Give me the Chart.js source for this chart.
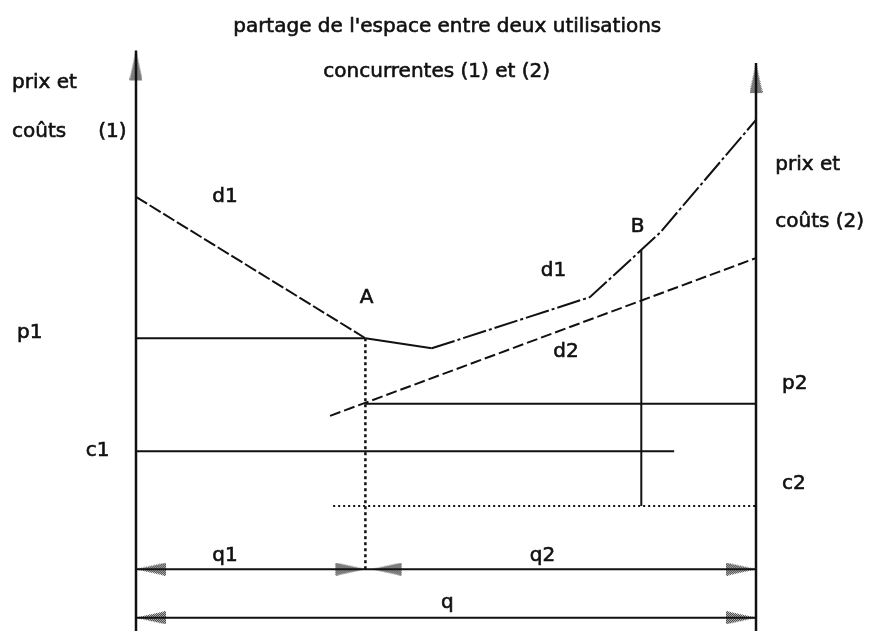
<!DOCTYPE html>
<html>
<head>
<meta charset="utf-8">
<script src="https://cdn.jsdelivr.net/npm/chart.js@4/dist/chart.umd.min.js"></script>
<style>html,body{margin:0;background:#fff}</style>
</head>
<body>
<canvas id="chart" width="896" height="631"></canvas>
<script>
// quantités : 0 = axe (1), 100 = axe (2) ; prix en unités arbitraires
const axeGauche = [[0, 0], [0, 92]];
const axeDroit = [[100, 0], [100, 90]];
const d1 = [[0, 68.8], [37, 46.4], [47.7, 44.8], [73.2, 52.9], [84.5, 63.1], [100, 81]];
const d2 = [[31.3, 34.1], [100, 59.1]];
const p1 = [[0, 46.4], [37, 46.4]];
const p2 = [[37, 36], [100, 36]];
const c1 = [[0, 28.5], [86.8, 28.5]];
const c2 = [[31.8, 19.8], [100, 19.8]];
const verticaleA = [[37, 46.4], [37, 9.8]];
const verticaleB = [[81.5, 60.4], [81.5, 19.8]];
const ligneQ12 = [[0, 9.8], [100, 9.8]];
const ligneQ = [[0, 2.1], [100, 2.1]];
// flèches : x, y (pointe), angle
const fleches = [[0, 92, 0], [100, 90, 0], [0, 9.8, -90], [37, 9.8, 90], [38, 9.8, -90],
  [100, 9.8, 90], [0, 2.1, -90], [100, 2.1, 90]];
// textes : texte, x, y, alignement
const etiquettes = [
  ["partage de l'espace entre deux utilisations", 50.2, 95.7, 'center'],
  ['concurrentes (1) et (2)', 48.5, 88.6, 'center'],
  ['prix et', -20, 86.8],
  ['coûts', -20, 79.1],
  ['(1)', -6.1, 79.1],
  ['prix et', 103.1, 73.9],
  ['coûts (2)', 103.1, 64.8],
  ['d1', 12.3, 68.8],
  ['A', 36.1, 52.8],
  ['d1', 65.3, 57.1],
  ['B', 79.8, 64.0],
  ['d2', 67.3, 44.2],
  ['p1', -19.2, 47.2],
  ['p2', 104.2, 39.1],
  ['c1', -8.1, 28.5],
  ['c2', 104.2, 23.3],
  ['q1', 12.3, 11.9],
  ['q2', 63.5, 11.9],
  ['q', 49.2, 4.4]
];

const pts = arr => arr.map(([x, y]) => ({x, y}));
const noir = '#111';

// pointe de flèche tramée, pointe au centre du canvas
function pointeFleche() {
  const c = document.createElement('canvas');
  c.width = 13; c.height = 64;
  const g = c.getContext('2d');
  g.beginPath();
  g.moveTo(6.5, 32); g.lineTo(0, 62); g.lineTo(13, 62); g.closePath();
  g.clip();
  g.fillStyle = '#d8d8d8';
  g.fillRect(0, 0, 13, 64);
  g.fillStyle = '#222';
  for (let i = 0; i < 13; i++)
    for (let j = 30; j < 64; j++)
      if ((i + j) % 2 === 0) g.fillRect(i, j, 1, 1);
  return c;
}

function ligne(data, width, dash, extra) {
  return Object.assign({
    data: pts(data), showLine: true, borderColor: noir, borderWidth: width,
    borderDash: dash || [], pointRadius: 0, fill: false
  }, extra || {});
}

const textes = {
  id: 'textes',
  afterDatasetsDraw(chart) {
    const {ctx, scales: {x, y}} = chart;
    ctx.save();
    ctx.font = '20px "DejaVu Sans"';
    ctx.fillStyle = noir;
    ctx.strokeStyle = noir;
    ctx.lineWidth = 0.6;
    ctx.textBaseline = 'middle';
    for (const [t, lx, ly, align] of etiquettes) {
      ctx.textAlign = align || 'left';
      const px = x.getPixelForValue(lx), py = y.getPixelForValue(ly);
      ctx.fillText(t, px, py);
      ctx.strokeText(t, px, py);
    }
    ctx.restore();
  }
};

const fleche = pointeFleche();

new Chart(document.getElementById('chart'), {
  type: 'scatter',
  data: {
    datasets: [
      ligne(axeGauche, 2.5),
      ligne(axeDroit, 2.5),
      ligne(d1, 2, [], {
        segment: {
          borderDash: ctx => ctx.p0DataIndex === 0 ? [13, 3] : ctx.p0DataIndex >= 2 ? [24, 3, 3, 3] : []
        }
      }),
      ligne(d2, 2, [11, 4]),
      ligne(p1, 2),
      ligne(p2, 2),
      ligne(c1, 2),
      ligne(c2, 2, [2, 3]),
      ligne(verticaleA, 2.5, [3, 3]),
      ligne(verticaleB, 2),
      ligne(ligneQ12, 2),
      ligne(ligneQ, 2),
      {
        data: pts(fleches),
        showLine: false,
        pointStyle: fleche,
        pointRadius: 5,
        rotation: fleches.map(f => f[2])
      }
    ]
  },
  options: {
    responsive: false,
    animation: false,
    layout: {padding: 0, autoPadding: false},
    plugins: {legend: {display: false}, tooltip: {enabled: false}},
    scales: {
      x: {type: 'linear', min: -21.935, max: 122.58, display: false},
      y: {type: 'linear', min: 0, max: 100, display: false}
    }
  },
  plugins: [textes]
});
</script>
</body>
</html>
